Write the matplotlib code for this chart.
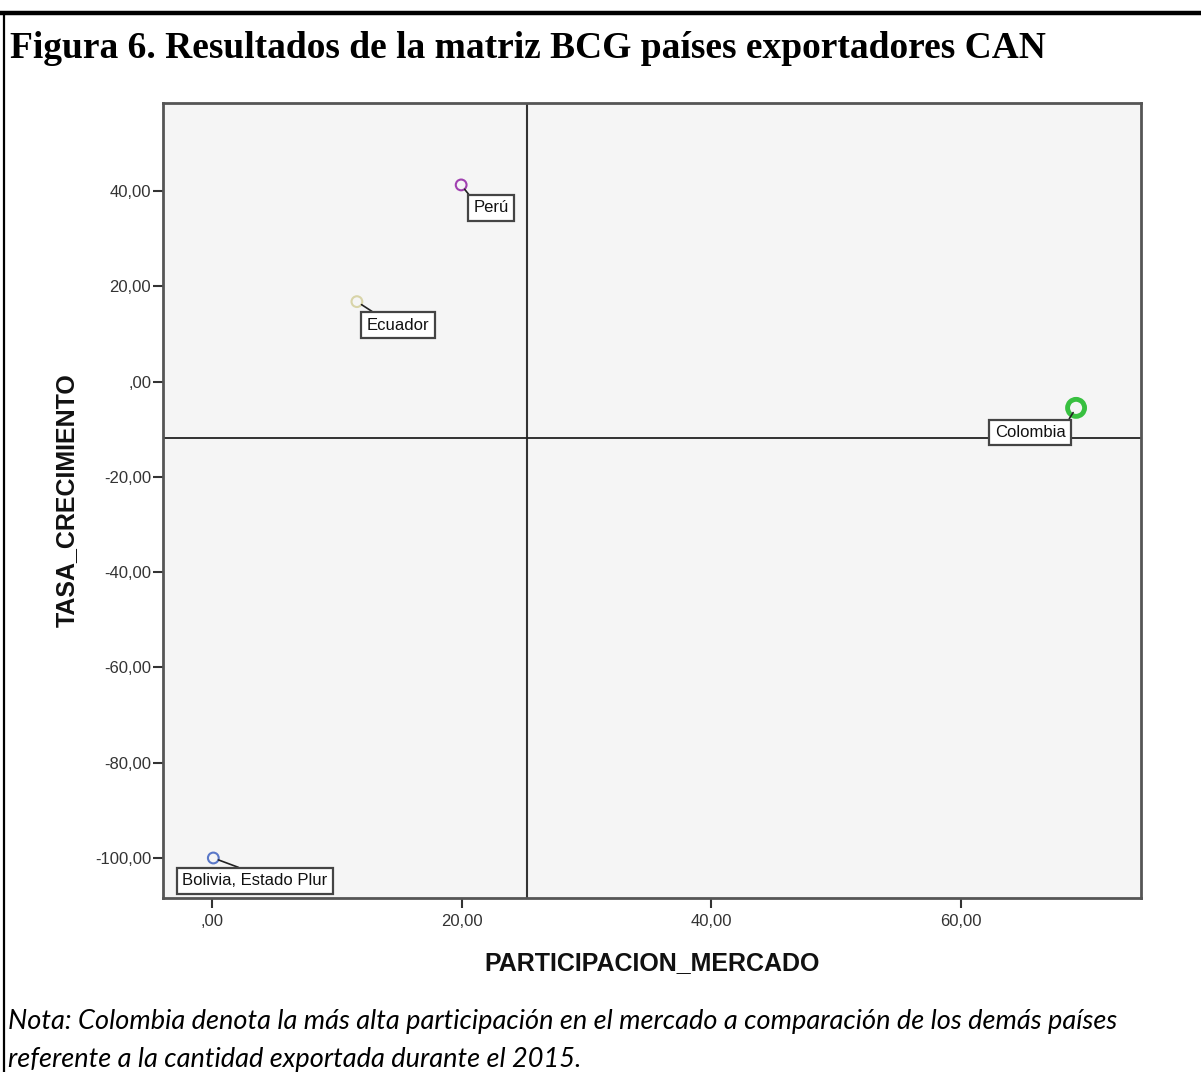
import matplotlib
matplotlib.use('Agg')
import matplotlib.pyplot as plt
import numpy as np

# data
paises = ['Perú', 'Ecuador', 'Colombia', 'Bolivia, Estado Plur']
participacion = [19.95, 11.6, 69.2, 0.1]
crecimiento = [41.3, 16.8, -5.5, -100.0]
colores = ['#a040b0', '#d8d4a8', '#38c040', '#5a78c8']
x_ticks = [0, 20, 40, 60]
y_ticks = [40, 20, 0, -20, -40, -60, -80, -100]

W, H = 1201, 1072
fig = plt.figure(figsize=(W / 100, H / 100), dpi=100)

def fmt(v):
    s = ('%.2f' % v).replace('.', ',')
    if s.startswith('0,'):
        s = s[1:]
    return s

ax = fig.add_axes([163 / W, 1 - 898 / H, (1141 - 163) / W, (898 - 103) / H])
ax.set_facecolor('#f5f5f5')
ax.set_xlim(-3.93, 74.4)
ax.set_ylim(-108.4, 58.5)
for sp in ax.spines.values():
    sp.set_color('#555555')
    sp.set_linewidth(2)

# reference lines at the means
ax.axvline(np.mean(participacion), color='#333333', lw=1.5, zorder=1)
ax.axhline(np.mean(crecimiento), color='#222222', lw=1.3, zorder=1)

sizes = [60, 60, 150, 60]
widths = [1.5, 1.5, 3.5, 1.5]
for i in range(len(paises)):
    ax.scatter(participacion[i], crecimiento[i], s=sizes[i], facecolors='none',
               edgecolors=colores[i], linewidths=widths[i], zorder=4)

# label offsets in pixels (box centre relative to marker), leader attach point
offsets = [(30, -23), (41, -23.5), (-46, -24.5), (41.5, -23)]
relpos = [(0.0, 1.0), (0.24, 1.0), (1.0, 1.0), (0.5, 1.0)]
for i in range(len(paises)):
    ax.annotate(paises[i], (participacion[i], crecimiento[i]),
                xytext=offsets[i], textcoords='offset pixels',
                ha='center', va='center', fontsize=12, family='Liberation Sans',
                color='#111111', zorder=5,
                bbox=dict(boxstyle='square,pad=0.32', fc='white', ec='#444444', lw=1.6),
                arrowprops=dict(arrowstyle='-', color='#222222', lw=1.2,
                                relpos=relpos[i], shrinkA=0, shrinkB=4))

ax.set_xticks(x_ticks)
ax.set_xticklabels([fmt(v) for v in x_ticks])
ax.set_yticks(y_ticks)
ax.set_yticklabels([fmt(v) for v in y_ticks])
ax.tick_params(direction='out', length=7.5, width=1.5, color='#333333',
               labelsize=12, labelcolor='#333333', pad=1)
ax.tick_params(axis='x', pad=4)
for lab in ax.get_xticklabels() + ax.get_yticklabels():
    lab.set_family('Liberation Sans')

ax.set_xlabel('PARTICIPACION_MERCADO', fontsize=18, fontweight='bold',
              family='Liberation Sans', labelpad=16, color='#111111')
ax.set_ylabel('TASA_CRECIMIENTO', fontsize=18, fontweight='bold',
              family='Liberation Sans', labelpad=12, color='#111111')

# document frame and captions
fig.add_artist(plt.Line2D([0, 1], [1 - 12.5 / H, 1 - 12.5 / H], color='black', lw=3.2))
fig.add_artist(plt.Line2D([3.5 / W, 3.5 / W], [0, 1 - 12.5 / H], color='black', lw=1.6))
fig.text(10 / W, 1 - 58 / H, 'Figura 6. Resultados de la matriz BCG países exportadores CAN',
         family='Liberation Serif', fontweight='bold', fontsize=27, va='baseline')
fig.text(8 / W, 1 - 1029 / H,
         'Nota: Colombia denota la más alta participación en el mercado a comparación de los demás países',
         family='Lato', style='italic', fontsize=19.5, va='baseline')
fig.text(8 / W, 1 - 1067 / H, 'referente a la cantidad exportada durante el 2015.',
         family='Lato', style='italic', fontsize=19.5, va='baseline')

fig.savefig('out.png', dpi=100)
